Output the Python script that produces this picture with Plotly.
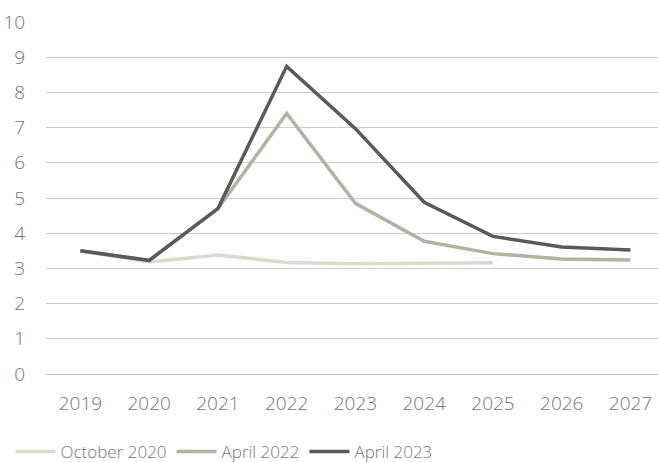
import plotly.graph_objects as go

years = ["2019", "2020", "2021", "2022", "2023", "2024", "2025", "2026", "2027"]
october_2020 = [3.5, 3.18, 3.38, 3.17, 3.13, 3.14, 3.16, None, None]
april_2022 = [3.5, 3.22, 4.7, 7.4, 4.85, 3.77, 3.42, 3.27, 3.24]
april_2023 = [3.5, 3.23, 4.7, 8.74, 6.97, 4.88, 3.91, 3.61, 3.52]

series = [
    ("October 2020", october_2020, "#dcd9cf"),
    ("April 2022", april_2022, "#b7b1a3"),
    ("April 2023", april_2023, "#5a5a5a"),
]

x_idx = list(range(len(years)))

fig = go.Figure()
for name, vals, color in series:
    fig.add_trace(go.Scatter(
        x=x_idx, y=vals, name=name, mode="lines",
        line=dict(color=color, width=3.5),
        connectgaps=False,
    ))

font_family = "Open Sans"
grey = "#767676"
tick_font = dict(family=font_family, size=19, color=grey, weight=300)

fig.update_layout(
    width=658, height=462,
    margin=dict(l=46, r=0, t=22, b=88, autoexpand=False),
    paper_bgcolor="white", plot_bgcolor="white",
    font=tick_font,
    showlegend=True,
    legend=dict(
        orientation="h", xref="container", yref="container",
        x=0.016, y=0.022, xanchor="left", yanchor="middle",
        font=dict(family=font_family, size=17, color=grey, weight=300),
        itemwidth=40, tracegroupgap=0,
    ),
    xaxis=dict(
        tickmode="array", tickvals=x_idx, ticktext=years,
        range=[-0.5, 8.4], showgrid=False, zeroline=False,
        showline=False, ticks="outside", ticklen=12, tickcolor="rgba(0,0,0,0)",
        tickfont=tick_font, automargin=False,
    ),
    yaxis=dict(
        range=[0, 10], dtick=1, tick0=0,
        showgrid=True, gridcolor="#cccccc", gridwidth=1.3,
        zeroline=True, zerolinecolor="#bdbdbd", zerolinewidth=1.3,
        showline=False, ticks="outside", ticklen=16, tickcolor="rgba(0,0,0,0)",
        tickfont=tick_font, automargin=False,
    ),
)

fig.write_html("out.html")
